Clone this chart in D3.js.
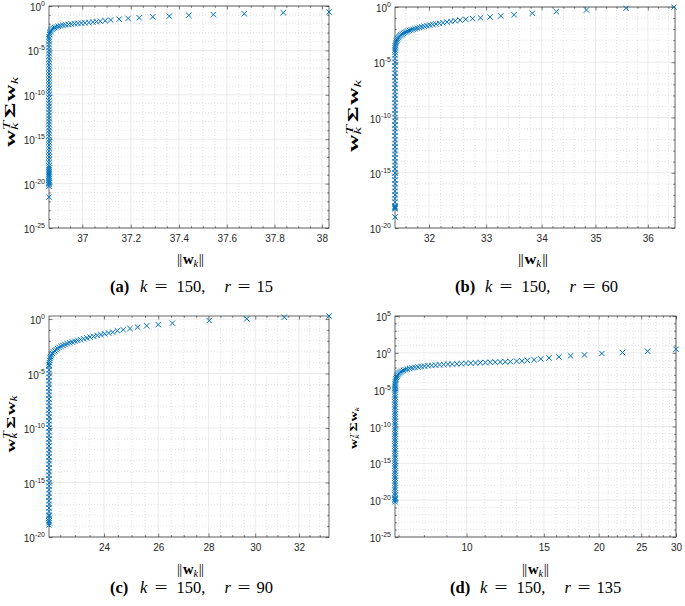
<!DOCTYPE html>
<html><head><meta charset="utf-8">
<script src="https://cdn.jsdelivr.net/npm/d3@7"></script>
<style>body{margin:0;background:#fff}</style>
</head><body>
<svg id="c" width="685" height="606" xmlns="http://www.w3.org/2000/svg"></svg>
<script>
// ---------------- DATA ----------------
// (a) k = 150, r = 15
const aColNorm = 36.863;
const aColVar = [3e-22,5e-21,8e-21,1.1e-20,1.6e-20,2.4e-20,4e-20,7e-20,1.2e-19,2e-19,3.5e-19,6e-19,
 1e-18,2.2e-18,4.6e-18,1e-17,2.1e-17,4.5e-17,1e-16,2.2e-16,4.6e-16,9.5e-16,2.2e-15,4.6e-15,1e-14,2.2e-14,4.7e-14,
 1e-13,2.2e-13,4.6e-13,1e-12,2.2e-12,4.6e-12,1e-11,2.1e-11,4.6e-11,1e-10,2.2e-10,4.6e-10,1e-9,2.2e-9,4.6e-9,
 1e-8,2.2e-8,4.6e-8,1e-7,2.2e-7,4.6e-7,1e-6,2.2e-6,4.6e-6,1e-5,2.2e-5,4.6e-5,1e-4,2e-4,3.5e-4];
const aCurveNorm = [36.865,36.866,36.868,36.871,36.875,36.880,36.886,36.893,36.901,36.910,36.920,36.931,36.943,36.955,
 36.968,36.982,36.996,37.011,37.027,37.043,37.058,37.074,37.094,37.117,37.152,37.189,37.235,37.291,37.360,37.441,
 37.544,37.673,37.837,38.03];
const aCurveVar = [6e-4,9e-4,1.3e-3,1.8e-3,2.4e-3,3.0e-3,3.7e-3,4.4e-3,5.1e-3,5.8e-3,6.6e-3,7.4e-3,8.2e-3,9.2e-3,
 1.02e-2,1.1e-2,1.18e-2,1.27e-2,1.38e-2,1.55e-2,1.72e-2,1.92e-2,2.2e-2,2.63e-2,3.3e-2,4.0e-2,4.8e-2,6.0e-2,7.3e-2,
 8.9e-2,0.105,0.135,0.175,0.21];
const aXTicks = [37, 37.2, 37.4, 37.6, 37.8, 38];
const aYExp = [0, -5, -10, -15, -20, -25];

// (b) k = 150, r = 60
const bColNorm = 31.42;
const bColVar = [1e-19,5.5e-19,6.5e-19,8e-19,
 1e-18,2.2e-18,4.6e-18,1e-17,2.1e-17,4.5e-17,1e-16,2.2e-16,4.6e-16,9.5e-16,2.2e-15,4.6e-15,1e-14,2.2e-14,4.7e-14,
 1e-13,2.2e-13,4.6e-13,1e-12,2.2e-12,4.6e-12,1e-11,2.1e-11,4.6e-11,1e-10,2.2e-10,4.6e-10,1e-9,2.2e-9,4.6e-9,
 1e-8,2.2e-8,4.6e-8,1e-7,2.2e-7,4.6e-7,1e-6,2.2e-6,4.6e-6,1e-5,2.2e-5,4.6e-5];
const bCurveNorm = [31.421,31.422,31.424,31.427,31.431,31.436,31.443,31.452,31.463,31.476,31.490,31.506,31.524,31.543,
 31.564,31.587,31.611,31.637,31.665,31.695,31.727,31.761,31.797,31.835,31.876,31.919,31.965,32.014,32.066,32.121,
 32.180,32.243,32.310,32.380,32.455,32.54,32.64,32.76,32.90,33.07,33.26,33.50,33.83,34.27,34.83,35.58,36.51];
const bCurveVar = [8e-5,1.3e-4,2e-4,3e-4,4.3e-4,6e-4,8e-4,1.05e-3,1.35e-3,1.7e-3,2.1e-3,2.55e-3,3.05e-3,3.6e-3,4.2e-3,
 4.9e-3,5.6e-3,6.5e-3,7.4e-3,8.5e-3,9.7e-3,1.1e-2,1.25e-2,1.42e-2,1.6e-2,1.8e-2,2.05e-2,2.3e-2,2.6e-2,2.95e-2,
 3.35e-2,3.8e-2,4.3e-2,4.9e-2,5.7e-2,6.5e-2,7.6e-2,8.9e-2,0.104,0.124,0.155,0.2,0.27,0.38,0.54,0.76,0.97];
const bXTicks = [32, 33, 34, 35, 36];
const bYExp = [0, -5, -10, -15, -20];

// (c) k = 150, r = 90
const cColNorm = 22.13;
const cColVar = [1.3e-19,2e-19,3e-19,5e-19,8e-19,
 1e-18,2.2e-18,4.6e-18,1e-17,2.1e-17,4.5e-17,1e-16,2.2e-16,4.6e-16,9.5e-16,2.2e-15,4.6e-15,1e-14,2.2e-14,4.7e-14,
 1e-13,2.2e-13,4.6e-13,1e-12,2.2e-12,4.6e-12,1e-11,2.1e-11,4.6e-11,1e-10,2.2e-10,4.6e-10,1e-9,2.2e-9,4.6e-9,
 1e-8,2.2e-8,4.6e-8,1e-7,2.2e-7,4.6e-7,1e-6,2.2e-6,4.6e-6,1e-5,2.2e-5,4.6e-5];
const cCurveNorm = [22.135,22.14,22.15,22.165,22.185,22.21,22.24,22.275,22.315,22.36,22.41,22.465,22.525,22.59,22.66,
 22.735,22.815,22.9,22.99,23.085,23.185,23.29,23.4,23.515,23.635,23.76,23.89,24.025,24.165,24.31,
 24.48,24.69,24.94,25.22,25.56,26.00,26.55,28.03,29.63,31.31,33.45];
const cCurveVar = [6e-5,1e-4,1.6e-4,2.4e-4,3.5e-4,5e-4,7e-4,9.5e-4,1.25e-3,1.6e-3,2e-3,2.5e-3,3.1e-3,3.8e-3,4.6e-3,
 5.5e-3,6.6e-3,7.9e-3,9.3e-3,1.1e-2,1.3e-2,1.55e-2,1.85e-2,2.2e-2,2.6e-2,3.1e-2,3.7e-2,4.4e-2,5.2e-2,6.2e-2,
 8.5e-2,0.105,0.135,0.18,0.24,0.31,0.42,0.72,1.05,1.45,1.9];
const cXTicks = [24, 26, 28, 30, 32];
const cYExp = [0, -5, -10, -15, -20];

// (d) k = 150, r = 135
const dColNorm = 6.87;
const dColVar = [6e-21,1e-20,1.5e-20,2.2e-20,4.6e-20,
 1e-19,2.2e-19,4.6e-19,1e-18,2.2e-18,4.6e-18,1e-17,2.1e-17,4.5e-17,1e-16,2.2e-16,4.6e-16,9.5e-16,2.2e-15,4.6e-15,
 1e-14,2.2e-14,4.7e-14,1e-13,2.2e-13,4.6e-13,1e-12,2.2e-12,4.6e-12,1e-11,2.1e-11,4.6e-11,1e-10,2.2e-10,4.6e-10,
 1e-9,2.2e-9,4.6e-9,1e-8,2.2e-8,4.6e-8,1e-7,2.2e-7,4.6e-7,1e-6,2.2e-6,4.6e-6,1e-5,1.6e-5];
const dCurveNorm = [6.874,6.878,6.884,6.893,6.905,6.92,6.94,6.965,6.995,7.03,7.07,7.12,7.18,7.25,7.33,7.42,7.52,7.63,
 7.75,7.88,8.02,8.17,8.33,8.5,8.68,8.87,9.07,9.28,9.5,9.73,9.97,10.22,10.48,10.75,11.03,11.32,11.62,11.93,12.25,12.58,
 13.0,13.37,13.76,14.25,14.76,15.41,16.23,17.25,18.56,20.34,22.66,25.85,30];
const dCurveVar = [3e-5,6e-5,1.1e-4,1.9e-4,3e-4,4.6e-4,7e-4,1e-3,1.4e-3,1.9e-3,2.5e-3,3.2e-3,4e-3,5e-3,6.2e-3,7.5e-3,
 9e-3,1.06e-2,1.23e-2,1.4e-2,1.58e-2,1.76e-2,1.95e-2,2.15e-2,2.36e-2,2.57e-2,2.78e-2,3e-2,3.23e-2,3.47e-2,3.72e-2,
 3.98e-2,4.25e-2,4.53e-2,4.82e-2,5.12e-2,5.43e-2,5.75e-2,6.08e-2,6.42e-2,
 7.4e-2,8.1e-2,9.5e-2,0.115,0.15,0.2,0.28,0.39,0.52,0.81,1.1,1.66,3.1];
const dXTicks = [10, 15, 20, 25, 30];
const dYExp = [5, 0, -5, -10, -15, -20, -25];

const captionLetters = ['a', 'b', 'c', 'd'];
const kValues = [150, 150, 150, 150];
const rValues = [15, 60, 90, 135];

// ---------------- DRAWING ----------------
const BLUE = '#0072BD', AX = '#262626';
const SANS = '"Liberation Sans", Arial, Helvetica, sans-serif';
const SERIF = '"Liberation Serif", "Times New Roman", serif';
const svg = d3.select('#c');

function pts(colNorm, colVar, curveNorm, curveVar) {
  return colVar.map(v => [colNorm, v]).concat(d3.zip(curveNorm, curveVar));
}

const panels = [
  {data: pts(aColNorm, aColVar, aCurveNorm, aCurveVar), box: [49, 6, 329, 228], xDom: [36.863, 38.03], yDom: [1e-25, 1],
   xTicks: aXTicks, xMinorStep: 0.05, yExp: aYExp,
   yl: {x: 14.5, cy: 112, len: 70, s: 15}, xl: {cx: 190.5, y: 264, len: 27}, cap: {x: 110, y: 292}},
  {data: pts(bColNorm, bColVar, bCurveNorm, bCurveVar), box: [395, 7, 675, 228], xDom: [31.42, 36.53], yDom: [1e-20, 1],
   xTicks: bXTicks, xMinorStep: 0.2, yExp: bYExp,
   yl: {x: 357.5, cy: 116, len: 72, s: 15}, xl: {cx: 533, y: 264, len: 30}, cap: {x: 455, y: 292}},
  {data: pts(cColNorm, cColVar, cCurveNorm, cCurveVar), box: [49, 316, 329, 537], xDom: [22.13, 33.45], yDom: [1e-20, 1.9],
   xTicks: cXTicks, xMinorStep: 0.5, yExp: cYExp,
   yl: {x: 14.5, cy: 424, len: 57, s: 13.5}, xl: {cx: 190.5, y: 574, len: 27}, cap: {x: 110, y: 593}},
  {data: pts(dColNorm, dColVar, dCurveNorm, dCurveVar), box: [395, 316, 676, 537], xDom: [6.87, 30], yDom: [1e-25, 1e5],
   xTicks: dXTicks, xMinorStep: 1, yExp: dYExp,
   yl: {x: 357, cy: 428, len: 42, s: 10}, xl: {cx: 535.5, y: 574, len: 27}, cap: {x: 450, y: 593}}
];

function styleAxis(sel) {
  sel.select('.domain').remove();
  sel.selectAll('.tick line').attr('stroke', AX).attr('stroke-width', 0.6);
  sel.selectAll('.tick text').attr('fill', AX).attr('font-family', SANS).attr('font-size', 10);
}

function drawPanel(p, i) {
  const [L, T, R, B] = p.box;
  const x = d3.scaleLog().domain(p.xDom).range([L, R]);
  const y = d3.scaleLog().domain(p.yDom).range([B, T]);
  const g = svg.append('g');

  const near = (a, b) => Math.abs(a - b) < 1e-6 * Math.max(1, Math.abs(b));
  const xMinor = d3.range(Math.ceil(p.xDom[0] / p.xMinorStep) * p.xMinorStep, p.xDom[1] + 1e-9, p.xMinorStep)
    .map(v => +v.toFixed(4)).filter(v => v >= p.xDom[0] && v <= p.xDom[1] && !p.xTicks.some(t => near(t, v)));
  const yMajor = p.yExp.map(e => Math.pow(10, e));
  const eLo = Math.ceil(Math.log10(p.yDom[0]) - 1e-9), eHi = Math.floor(Math.log10(p.yDom[1]) + 1e-9);
  const yMinor = d3.range(eLo, eHi + 1).filter(e => !p.yExp.includes(e)).map(e => Math.pow(10, e));

  // grid
  const grid = g.append('g');
  grid.selectAll('.xmg').data(xMinor).join('line').attr('x1', d => x(d)).attr('x2', d => x(d)).attr('y1', T).attr('y2', B)
    .attr('stroke', '#cfcfcf').attr('stroke-width', 0.6).attr('stroke-dasharray', '1,2');
  grid.selectAll('.ymg').data(yMinor).join('line').attr('y1', d => y(d)).attr('y2', d => y(d)).attr('x1', L).attr('x2', R)
    .attr('stroke', '#cfcfcf').attr('stroke-width', 0.6).attr('stroke-dasharray', '1,2');
  grid.selectAll('.xMg').data(p.xTicks).join('line').attr('x1', d => x(d)).attr('x2', d => x(d)).attr('y1', T).attr('y2', B)
    .attr('stroke', '#e3e3e3').attr('stroke-width', 0.7);
  grid.selectAll('.yMg').data(yMajor).join('line').attr('y1', d => y(d)).attr('y2', d => y(d)).attr('x1', L).attr('x2', R)
    .attr('stroke', '#e3e3e3').attr('stroke-width', 0.7);

  // box
  g.append('rect').attr('x', L).attr('y', T).attr('width', R - L).attr('height', B - T)
    .attr('fill', 'none').attr('stroke', AX).attr('stroke-width', 0.7);

  // axes (ticks pointing inward)
  g.append('g').attr('transform', `translate(0,${B})`)
    .call(d3.axisBottom(x).tickValues(p.xTicks).tickSizeInner(-3.5).tickSizeOuter(0).tickPadding(7).tickFormat(d => String(d)))
    .call(styleAxis);
  g.append('g').attr('transform', `translate(0,${B})`)
    .call(d3.axisBottom(x).tickValues(xMinor).tickSizeInner(-1.8).tickSizeOuter(0).tickFormat(() => '')).call(styleAxis);
  g.append('g').attr('transform', `translate(0,${T})`)
    .call(d3.axisTop(x).tickValues(p.xTicks).tickSizeInner(-3.5).tickSizeOuter(0).tickFormat(() => '')).call(styleAxis);
  g.append('g').attr('transform', `translate(0,${T})`)
    .call(d3.axisTop(x).tickValues(xMinor).tickSizeInner(-1.8).tickSizeOuter(0).tickFormat(() => '')).call(styleAxis);

  const yl = g.append('g').attr('transform', `translate(${L},0)`)
    .call(d3.axisLeft(y).tickValues(yMajor).tickSizeInner(-3.5).tickSizeOuter(0).tickPadding(4).tickFormat(() => ''))
    .call(styleAxis);
  yl.selectAll('.tick text').attr('dy', '0.45em').each(function (d) {
    const t = d3.select(this);
    const e = Math.round(Math.log10(d));
    t.append('tspan').text('10');
    t.append('tspan').attr('dy', -5).attr('font-size', 7).text(String(e));
  });
  g.append('g').attr('transform', `translate(${L},0)`)
    .call(d3.axisLeft(y).tickValues(yMinor).tickSizeInner(-1.8).tickSizeOuter(0).tickFormat(() => '')).call(styleAxis);
  g.append('g').attr('transform', `translate(${R},0)`)
    .call(d3.axisRight(y).tickValues(yMajor).tickSizeInner(-3.5).tickSizeOuter(0).tickFormat(() => '')).call(styleAxis);
  g.append('g').attr('transform', `translate(${R},0)`)
    .call(d3.axisRight(y).tickValues(yMinor).tickSizeInner(-1.8).tickSizeOuter(0).tickFormat(() => '')).call(styleAxis);

  // markers
  const h = 2.7;
  g.append('g').selectAll('path').data(p.data).join('path')
    .attr('transform', d => `translate(${x(d[0])},${y(d[1])})`)
    .attr('d', `M${-h},${-h}L${h},${h}M${-h},${h}L${h},${-h}`)
    .attr('fill', 'none').attr('stroke', BLUE).attr('stroke-width', 1);

  yLabel(p.yl);
  xLabel(p.xl);
  caption(p.cap, captionLetters[i], kValues[i], rValues[i]);
}

// y label  w_k^T Σ w_k (rotated); stretched along its length to match the reference span
function yLabel(o) {
  const s = o.s;
  const outer = svg.append('g');
  const inner = outer.append('g');
  let pos = 0;
  const piece = (txt, size, dy, weight, style) => inner.append('text').attr('x', pos).attr('y', dy)
    .attr('font-family', SERIF).attr('font-size', size).attr('font-weight', weight).attr('font-style', style)
    .attr('fill', '#000').text(txt);
  let t = piece('w', s, 0, 'bold', 'normal'); pos += t.node().getComputedTextLength();
  const k1 = piece('k', s * 0.7, s * 0.22, 'normal', 'italic');
  const T1 = piece('T', s * 0.7, -s * 0.3, 'normal', 'italic');
  pos += Math.max(k1.node().getComputedTextLength(), T1.node().getComputedTextLength()) + s * 0.12;
  t = piece('\u03A3', s, 0, 'bold', 'normal'); pos += t.node().getComputedTextLength() + s * 0.05;
  t = piece('w', s, 0, 'bold', 'normal'); pos += t.node().getComputedTextLength();
  t = piece('k', s * 0.7, s * 0.22, 'normal', 'italic'); pos += t.node().getComputedTextLength();
  const f = o.len / pos;
  outer.attr('transform', `translate(${o.x},${o.cy}) rotate(-90) scale(${f},1) translate(${-pos / 2},0)`);
}

function xLabel(o) {
  const s = 14;
  const outer = svg.append('g');
  const inner = outer.append('g');
  let pos = 0;
  const piece = (txt, size, dy, weight, style) => inner.append('text').attr('x', pos).attr('y', dy)
    .attr('font-family', SERIF).attr('font-size', size).attr('font-weight', weight).attr('font-style', style)
    .attr('fill', '#000').text(txt);
  let t = piece('|', s, 0, 'normal', 'normal'); pos += t.node().getComputedTextLength() * 0.75;
  t = piece('|', s, 0, 'normal', 'normal'); pos += t.node().getComputedTextLength() + s * 0.05;
  t = piece('w', s, 0, 'bold', 'normal'); pos += t.node().getComputedTextLength();
  t = piece('k', s * 0.7, s * 0.22, 'normal', 'italic'); pos += t.node().getComputedTextLength() + s * 0.05;
  t = piece('|', s, 0, 'normal', 'normal'); pos += t.node().getComputedTextLength() * 0.75;
  t = piece('|', s, 0, 'normal', 'normal'); pos += t.node().getComputedTextLength();
  const f = o.len / pos;
  outer.attr('transform', `translate(${o.cx},${o.y}) scale(${f},1) translate(${-pos / 2},0)`);
}

// caption "(a) k = 150,  r = 15" with LaTeX-like spacing
function caption(o, letter, k, r) {
  const s = 16.5;
  const g = svg.append('g').attr('font-family', SERIF).attr('font-size', s).attr('fill', '#000');
  const parts = [
    {t: `(${letter})`, dx: 0, w: 'bold', st: 'normal', sx: 1},
    {t: 'k', dx: 30, w: 'normal', st: 'italic', sx: 1},
    {t: '=', dx: 44.5, w: 'normal', st: 'normal', sx: 1.4},
    {t: `${k},`, dx: 66.5, w: 'normal', st: 'normal', sx: 1},
    {t: 'r', dx: 114.5, w: 'normal', st: 'italic', sx: 1},
    {t: '=', dx: 127.5, w: 'normal', st: 'normal', sx: 1.4},
    {t: String(r), dx: 146.5, w: 'normal', st: 'normal', sx: 1}
  ];
  parts.forEach(pt => g.append('text')
    .attr('transform', `translate(${o.x + pt.dx},${o.y}) scale(${pt.sx},1)`)
    .attr('font-weight', pt.w).attr('font-style', pt.st).text(pt.t));
}

panels.forEach(drawPanel);
</script>
</body></html>
